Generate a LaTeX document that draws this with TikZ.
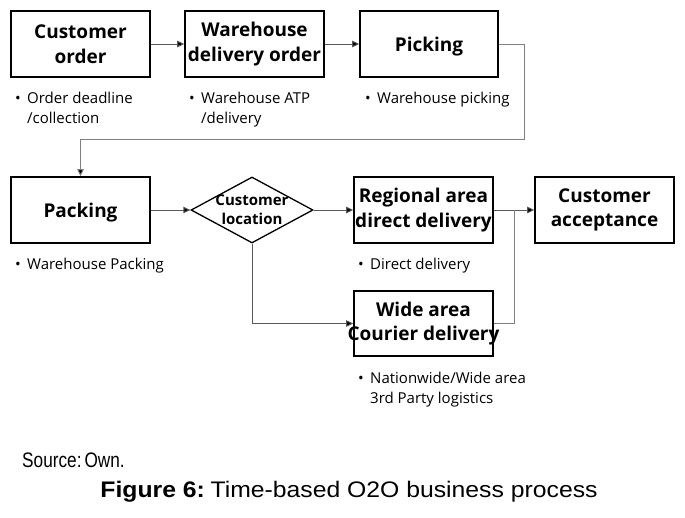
\documentclass[tikz,border=0pt]{standalone}
\usepackage{fontspec}
\setmainfont{Open Sans}
\newfontfamily\capfont{Liberation Sans}
\usetikzlibrary{shapes.geometric,arrows.meta}
\newcommand\zw[1]{\makebox[0pt]{#1}}
\newcommand\bul{\makebox[12pt][l]{•}}
\newcommand\ind{\hspace*{12pt}}
\begin{document}
\begin{tikzpicture}[x=1pt,y=-1pt,
  box/.style={draw=black, line width=1.6pt, minimum width=139pt, minimum height=66pt, inner sep=0pt, align=center, font=\fontsize{19}{24.5}\selectfont\bfseries},
  onebox/.style={box, text depth=0pt},
  dia/.style={draw=black, line width=1.3pt, shape=diamond, minimum width=122pt, minimum height=66pt, inner sep=0pt},
  diatext/.style={align=center, inner sep=0pt, font=\fontsize{15}{19}\selectfont\bfseries},
  note/.style={anchor=north west, align=left, inner sep=0pt, font=\fontsize{15}{20}\selectfont},
  conn/.style={draw=black!65, line width=0.9pt},
  arr/.style={conn, -{Triangle[length=7pt,width=6.5pt,fill=black]}}]
\useasboundingbox[fill=white] (0,0) rectangle (685,517);
% boxes
\node[box] (co) at (80.5,44) {\zw{Customer}\\\zw{order}};
\node[box] (wdo) at (254.5,44) {\zw{Warehouse}\\\zw{delivery order}};
\node[onebox, minimum width=138pt] (pick) at (429,44) {Picking};
\node[onebox] (pack) at (80.5,210) {Packing};
\node[dia] (loc) at (252,210) {};
\node[diatext] (loct) at (252,210) {\zw{Customer}\\\zw{location}};
\node[box] (reg) at (423.5,210) {\zw{Regional area}\\\zw{direct delivery}};
\node[box] (ca) at (604.5,210) {\zw{Customer}\\\zw{acceptance}};
\node[box, minimum height=65pt] (wide) at (423.5,323.5) {\zw{Wide area}\\\zw{Courier delivery}};
% notes
\node[note] (n1) at (15,92) {\bul Order deadline\\\ind/collection};
\node[note] (n2) at (189,92) {\bul Warehouse ATP\\\ind/delivery};
\node[note] (n3) at (365,92) {\bul Warehouse picking};
\node[note] (n4) at (15,258) {\bul Warehouse Packing};
\node[note] (n5) at (358,258) {\bul Direct delivery};
\node[note] (n6) at (358,372) {\bul Nationwide/Wide area\\\ind 3rd Party logistics};
% connectors
\coordinate (turn) at (524,139);
\coordinate (join) at (514,210);
\draw[arr] (co.east) -- (wdo.west);
\draw[arr] (wdo.east) -- (pick.west);
\draw[arr, draw=black!50] (pick.east) -| (turn) -| (pack.north);
\draw[arr] (pack.east) -- (loc.west);
\draw[arr] (loc.east) -- (reg.west);
\draw[arr] (reg.east) -- (ca.west);
\draw[arr] (loc.south) |- (wide.west);
\draw[conn, draw=black!50] (wide.east) -| (join);
% caption
\node[anchor=base west, inner sep=0pt, font=\capfont\fontsize{21}{24}\selectfont] (src) at (22,467) {\scalebox{0.82}[1]{Source:\kern-0.1em\ Own.}};
\node[anchor=base, inner sep=0pt, font=\capfont\fontsize{22.5}{26}\selectfont] (cap) at (349,497) {\scalebox{1.1}[1]{\textbf{Figure 6:}\kern-0.05em\ Time-based O2O business process}};
\end{tikzpicture}
\end{document}
